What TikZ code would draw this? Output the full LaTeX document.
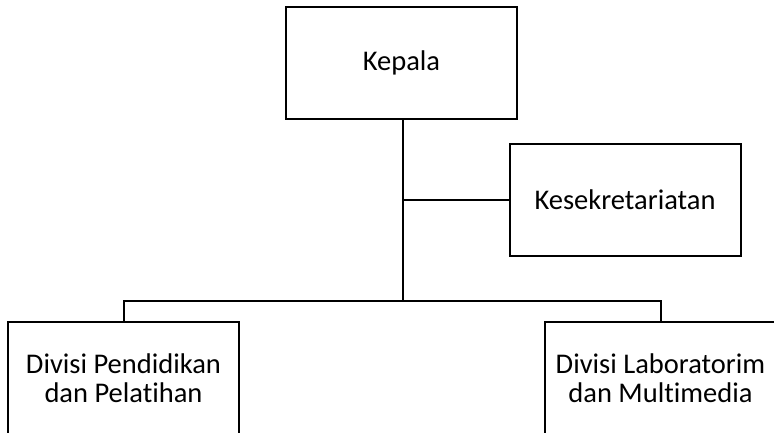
\documentclass[tikz,border=0pt]{standalone}
\usepackage{fontspec}
\setmainfont{Carlito}[Ligatures=NoCommon]
\begin{document}
\begin{tikzpicture}[x=1pt,y=-1pt,
  unit/.style={draw=black, line width=2pt, minimum width=231pt, minimum height=112pt,
    align=center, inner sep=0pt, font=\fontsize{28.5}{29}\selectfont},
  link/.style={line width=2pt}]
\useasboundingbox (0,0) rectangle (774,432);
\clip (0,0) rectangle (774,432);
\node[unit] (kepala) at (401.5,63) {Kepala};
\node[unit] (sekretariat) at (625,200) {Kesekretariatan};
\node[unit] (diklat) at (123.5,378) {Divisi Pendidikan\\dan Pelatihan};
\node[unit] (lab) at (660.5,378) {Divisi Laboratorim\\dan Multimedia};
\coordinate (bus) at (402.5,301);
\draw[link] (kepala.south -| bus) -- (bus);
\draw[link] (sekretariat.west) -- (sekretariat.west -| bus);
\draw[link] (diklat.north) |- (bus) -| (lab.north);
\end{tikzpicture}
\end{document}
